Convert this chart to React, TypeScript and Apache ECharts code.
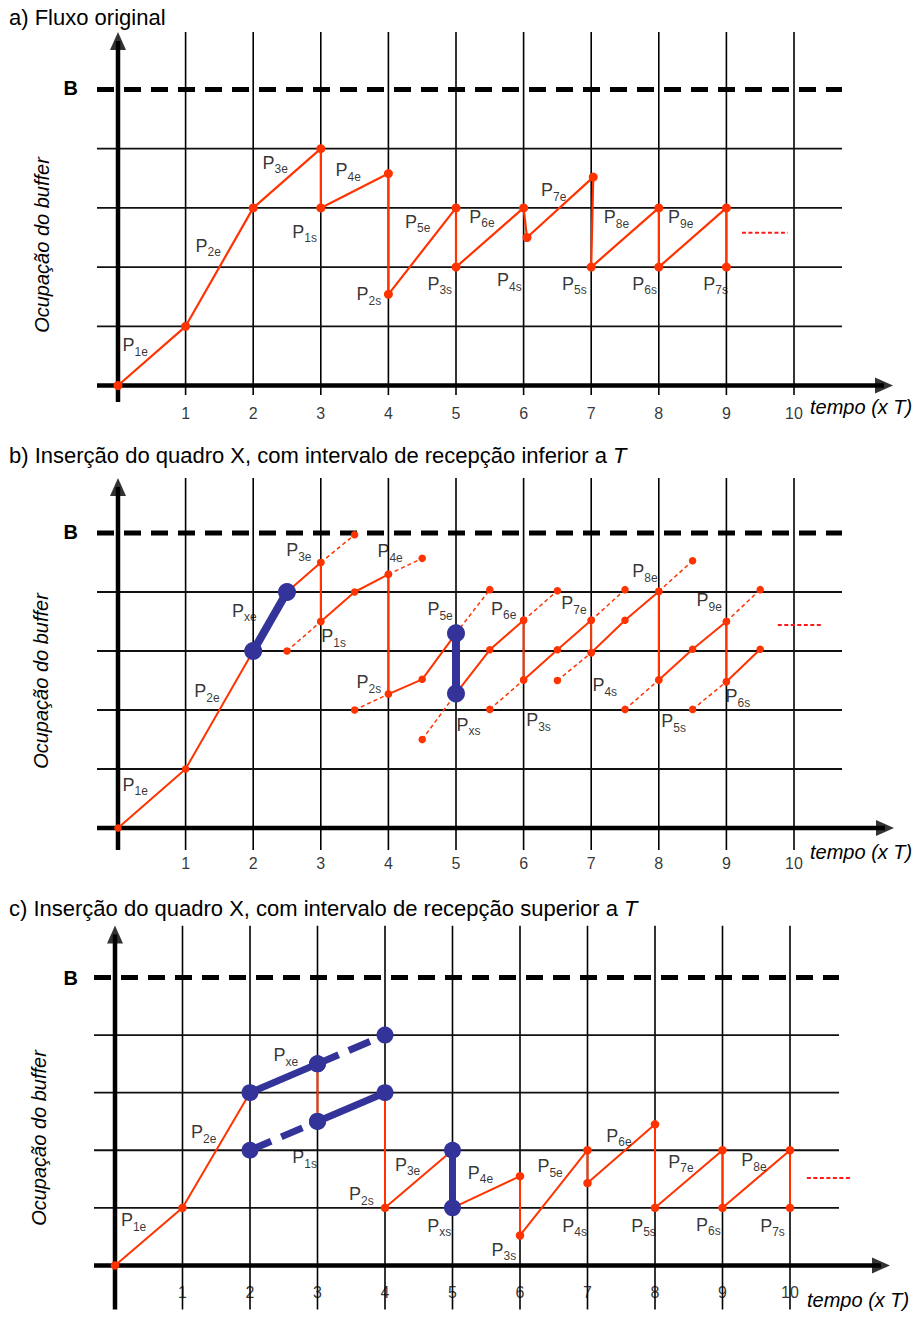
import React, { useEffect, useRef } from 'react';
import * as echarts from 'echarts';

const FONT = '"Liberation Sans", Arial, Helvetica, sans-serif';
const RED = '#ff3300';
const BLUE = '#333399';
const DOTTED = '#ff1a1a';

type Pt = [number, number];
type Seg = Pt[];

// ---------- shared axis content ----------
const xTicks = [1, 2, 3, 4, 5, 6, 7, 8, 9, 10];
const hLevels = [1, 2, 3, 4];
const bufferLevel = 5;
const yName = 'Ocupação do buffer';
const xName = 'tempo (x T)';
const bName = 'B';

const titles = [
  ['a) Fluxo original', ''],
  ['b) Inserção do quadro X, com intervalo de recepção inferior a ', 'T'],
  ['c) Inserção do quadro X, com intervalo de recepção superior a ', 'T'],
];

// ---------- panel a ----------
const aPath: Pt[] = [
  [0, 0], [1, 1], [2, 3], [3, 4], [3, 3], [4, 3.58], [4, 1.54], [5, 3], [5, 2],
  [6, 3], [6.05, 2.5], [7.03, 3.52], [7, 2], [8, 3], [8, 2], [9, 3], [9, 2],
];
const aEllipsis: Seg[] = [[[9.23, 2.58], [9.91, 2.58]]];
const aLabels: [number, number, string][] = [
  [0.06, 0.68, '1e'], [1.14, 2.36, '2e'], [2.13, 3.76, '3e'], [3.21, 3.64, '4e'],
  [2.57, 2.6, '1s'], [3.52, 1.54, '2s'], [4.24, 2.77, '5e'], [4.57, 1.72, '3s'],
  [5.19, 2.85, '6e'], [6.25, 3.3, '7e'], [5.6, 1.78, '4s'], [6.56, 1.72, '5s'],
  [7.18, 2.84, '8e'], [7.6, 1.72, '6s'], [8.13, 2.84, '9e'], [8.65, 1.72, '7s'],
];

// ---------- panel b ----------
const bPaths: Seg[] = [
  [[0, 0], [1, 1], [2, 3]],
  [[2.5, 4], [3, 4.5], [3, 3.5], [3.5, 4], [4, 4.3], [4, 2.27], [4.5, 2.52], [5, 3.3]],
  [[5, 2.28], [5.5, 3.02], [6, 3.52], [6, 2.51], [6.5, 3.02], [7, 3.52], [7, 2.97],
   [7.5, 3.52], [8, 4.01], [8, 2.51], [8.5, 3.03], [9, 3.5], [9, 2.48], [9.5, 3.03]],
];
const bDashed: Seg[] = [
  [[3, 4.5], [3.5, 4.97]], [[2.5, 3], [3, 3.5]], [[4, 4.3], [4.5, 4.57]],
  [[3.5, 2], [4, 2.27]], [[5, 3.3], [5.5, 4.04]], [[4.5, 1.5], [5, 2.28]],
  [[6, 3.52], [6.5, 4.02]], [[5.5, 2.01], [6, 2.51]], [[7, 3.52], [7.5, 4.04]],
  [[6.5, 2.5], [7, 2.97]], [[8, 4.01], [8.5, 4.53]], [[7.5, 2.01], [8, 2.51]],
  [[9, 3.5], [9.5, 4.04]], [[8.5, 2.01], [9, 2.48]],
];
const bBlue: Seg[] = [[[2, 3], [2.5, 4]], [[5, 3.3], [5, 2.28]]];
const bEllipsis: Seg[] = [[[9.76, 3.44], [10.4, 3.44]]];
const bLabels: [number, number, string][] = [
  [0.06, 0.73, '1e'], [1.12, 2.32, '2e'], [1.68, 3.68, 'xe'], [2.48, 4.71, '3e'],
  [3.83, 4.69, '4e'], [3.0, 3.25, '1s'], [3.52, 2.47, '2s'], [4.57, 3.71, '5e'],
  [5.0, 1.75, 'xs'], [5.51, 3.72, '6e'], [6.55, 3.81, '7e'], [7.6, 4.35, '8e'],
  [8.55, 3.86, '9e'], [6.03, 1.83, '3s'], [7.01, 2.42, '4s'], [8.03, 1.81, '5s'],
  [8.98, 2.23, '6s'],
];

// ---------- panel c ----------
const cPaths: Seg[] = [
  [[0, 0], [1, 1], [2, 3]],
  [[4, 3], [4, 1], [5, 2]],
  [[5, 1], [6, 1.55], [6, 0.52], [7, 2], [7, 1.43], [8, 2.45], [8, 1], [9, 2], [9, 1], [10, 2], [10, 1]],
];
const cThin: Seg[] = [[[3, 3.5], [3, 2.5]]];
const cBlueSolid: Seg[] = [[[2, 3], [3, 3.5]], [[3, 2.5], [4, 3]], [[5, 2], [5, 1]]];
const cBlueDashed: Seg[] = [[[3, 3.5], [4, 4]], [[2, 2], [3, 2.5]]];
const cEllipsis: Seg[] = [[[10.25, 1.52], [10.89, 1.52]]];
const cLabels: [number, number, string][] = [
  [0.08, 0.78, '1e'], [1.12, 2.31, '2e'], [2.34, 3.65, 'xe'], [2.62, 1.88, '1s'],
  [4.14, 1.75, '3e'], [3.46, 1.24, '2s'], [4.62, 0.69, 'xs'], [5.22, 1.61, '4e'],
  [6.25, 1.72, '5e'], [7.27, 2.25, '6e'], [8.19, 1.8, '7e'], [9.27, 1.83, '8e'],
  [5.57, 0.27, '3s'], [6.62, 0.69, '4s'], [7.64, 0.69, '5s'], [8.6, 0.71, '6s'],
  [9.55, 0.69, '7s'],
];

// ---------- layout (pixels) ----------
const PANELS = [
  { x0: 118, xu: 67.6, y0: 385.5, yu: 59.2, left: 97, right: 842, top: 32, gridBottom: 395, axisBottom: 402, xTip: 893, tickY: 413, tempoX: 810, tempoY: 407, titleY: 17.5, nameX: 42, nameY: 245, dot: 9 },
  { x0: 118, xu: 67.6, y0: 828, yu: 59, left: 97, right: 842, top: 478, gridBottom: 850, axisBottom: 850, xTip: 894, tickY: 863, tempoX: 810, tempoY: 852, titleY: 455, nameX: 41, nameY: 681, dot: 7.5 },
  { x0: 115, xu: 67.5, y0: 1277.5, yu: 59.6, left: 94, right: 839, top: 926, gridBottom: 1323, axisBottom: 1323, xTip: 890, tickY: 1306, tempoX: 807, tempoY: 1300, titleY: 908, nameX: 39, nameY: 1138, dot: 8.5 },
];

const px2x = (p: any, px: number) => (px - p.x0) / p.xu;
const px2y = (p: any, py: number) => (p.y0 - py) / p.yu;

function linesSeries(i: number, segs: Seg[], lineStyle: any, z: number) {
  return {
    type: 'lines', coordinateSystem: 'cartesian2d', xAxisIndex: i, yAxisIndex: i,
    polyline: true, silent: true, z, symbol: ['none', 'none'],
    lineStyle: { opacity: 1, curveness: 0, ...lineStyle },
    data: segs.map((c) => ({ coords: c })),
  };
}
function dotSeries(i: number, pts: Pt[], size: number, color: string, z: number) {
  return {
    type: 'scatter', xAxisIndex: i, yAxisIndex: i, silent: true, z,
    symbol: 'circle', symbolSize: size, itemStyle: { color, opacity: 1 }, data: pts,
  };
}
function pathSeries(i: number, pts: Pt[], width: number, dot: number, z: number) {
  return {
    type: 'line', xAxisIndex: i, yAxisIndex: i, silent: true, z, data: pts, clip: false,
    symbol: 'circle', symbolSize: dot, showSymbol: true,
    lineStyle: { color: RED, width }, itemStyle: { color: RED },
  };
}
function labelSeries(i: number, labels: [number, number, string][], z: number) {
  return {
    type: 'scatter', xAxisIndex: i, yAxisIndex: i, silent: true, z,
    symbolSize: 1, itemStyle: { color: 'rgba(0,0,0,0)' },
    data: labels.map((l) => ({ value: [l[0], l[1]], name: l[2] })),
    label: {
      show: true, position: 'right', distance: 0,
      formatter: (pr: any) => `{p|P}{s|${pr.name}}`,
      rich: {
        p: { fontSize: 18, fontFamily: FONT, color: '#000', lineHeight: 20 },
        s: { fontSize: 12, fontFamily: FONT, color: '#000', lineHeight: 12, padding: [13, 0, 0, 0] },
      },
    },
  };
}

function frameSeries(i: number) {
  const p = PANELS[i];
  const vLines: Seg[] = xTicks.map((x) => [[x, px2y(p, p.gridBottom)], [x, px2y(p, p.top)]]);
  const hLines: Seg[] = hLevels.map((y) => [[px2x(p, p.left), y], [px2x(p, p.right), y]]);
  const bLine: Seg[] = [[[px2x(p, p.left), bufferLevel], [px2x(p, p.right), bufferLevel]]];
  const xAxisLine: Seg[] = [[[px2x(p, p.left), 0], [px2x(p, p.xTip - 9), 0]]];
  const yAxisLine: Seg[] = [[[0, px2y(p, p.axisBottom)], [0, px2y(p, p.top + 9)]]];
  return [
    linesSeries(i, vLines, { color: '#000', width: 1.6 }, 1),
    linesSeries(i, hLines, { color: '#111', width: 1.8 }, 1),
    linesSeries(i, bLine, { color: '#000', width: 5, type: [17, 10] }, 2),
    linesSeries(i, xAxisLine, { color: '#000', width: 4.5 }, 3),
    linesSeries(i, yAxisLine, { color: '#000', width: 4.5 }, 3),
    {
      type: 'scatter', xAxisIndex: i, yAxisIndex: i, silent: true, z: 3,
      symbol: 'triangle', symbolSize: [16, 18], itemStyle: { color: '#000' },
      data: [
        { value: [0, px2y(p, p.top + 9)], symbolRotate: 0 },
        { value: [px2x(p, p.xTip - 9), 0], symbolRotate: -90 },
      ],
    },
    {
      type: 'scatter', xAxisIndex: i, yAxisIndex: i, silent: true, z: 8,
      symbolSize: 1, itemStyle: { color: 'rgba(0,0,0,0)' },
      data: xTicks.map((x) => ({ value: [x, px2y(p, p.tickY)], name: String(x) })),
      label: { show: true, position: 'inside', formatter: '{b}', fontSize: 16, fontFamily: FONT, color: '#000' },
    },
  ];
}

const ends = (segs: Seg[]) => segs.reduce((acc: Pt[], s) => acc.concat([s[0], s[s.length - 1]]), []);
const allPts = (segs: Seg[]) => segs.reduce((acc: Pt[], s) => acc.concat(s), []);

function buildOption() {
  const series: any[] = [];
  PANELS.forEach((_, i) => series.push(...frameSeries(i)));

  // panel a
  series.push(pathSeries(0, aPath, 2.2, PANELS[0].dot, 5));
  series.push(linesSeries(0, aEllipsis, { color: DOTTED, width: 2, type: [4, 2.5] }, 5));
  series.push(labelSeries(0, aLabels, 9));

  // panel b
  bPaths.forEach((pth) => series.push(pathSeries(1, pth, 2, PANELS[1].dot, 5)));
  series.push(linesSeries(1, bDashed, { color: RED, width: 1.5, type: [4, 3] }, 4));
  series.push(dotSeries(1, ends(bDashed), PANELS[1].dot, RED, 5));
  series.push(linesSeries(1, bBlue, { color: BLUE, width: 8 }, 6));
  series.push(dotSeries(1, ends(bBlue), 18, BLUE, 7));
  series.push(linesSeries(1, bEllipsis, { color: DOTTED, width: 2, type: [4, 2.5] }, 5));
  series.push(labelSeries(1, bLabels, 9));

  // panel c
  cPaths.forEach((pth) => series.push(pathSeries(2, pth, 2, PANELS[2].dot, 5)));
  series.push(linesSeries(2, cThin, { color: RED, width: 2 }, 5));
  series.push(linesSeries(2, cBlueSolid, { color: BLUE, width: 7 }, 6));
  series.push(linesSeries(2, cBlueDashed, { color: BLUE, width: 7, type: [23, 11] }, 6));
  series.push(dotSeries(2, allPts(cBlueSolid.concat(cBlueDashed)), 17, BLUE, 7));
  series.push(linesSeries(2, cEllipsis, { color: DOTTED, width: 2, type: [4, 2.5] }, 5));
  series.push(labelSeries(2, cLabels, 9));

  const graphic: any[] = [];
  PANELS.forEach((p) => {
    graphic.push({
      type: 'text', x: 63.5, y: p.y0 - bufferLevel * p.yu - 1.5, silent: true,
      style: { text: bName, font: `bold 20px ${FONT}`, fill: '#000', textAlign: 'left', textVerticalAlign: 'middle' },
    });
    graphic.push({
      type: 'text', x: p.tempoX, y: p.tempoY, silent: true,
      style: { text: xName, font: `italic 20px ${FONT}`, fill: '#000', textAlign: 'left', textVerticalAlign: 'middle' },
    });
    graphic.push({
      type: 'text', x: p.nameX, y: p.nameY, rotation: Math.PI / 2, silent: true,
      style: { text: yName, font: `italic 20px ${FONT}`, fill: '#000', textAlign: 'center', textVerticalAlign: 'middle' },
    });
  });

  return {
    animation: false,
    title: PANELS.map((p, i) => ({
      left: 9, top: p.titleY - 13, padding: 0,
      text: titles[i][1] ? `{n|${titles[i][0]}}{i|${titles[i][1]}}` : `{n|${titles[i][0]}}`,
      textStyle: {
        fontWeight: 'normal',
        rich: {
          n: { fontSize: 22, fontFamily: FONT, fontWeight: 'normal', color: '#000', lineHeight: 26 },
          i: { fontSize: 22, fontFamily: FONT, fontWeight: 'normal', fontStyle: 'italic', color: '#000', lineHeight: 26 },
        },
      },
    })),
    grid: PANELS.map((p) => ({ left: p.x0 - 0.5 * p.xu, top: p.y0 - 6 * p.yu, width: 12 * p.xu, height: 7 * p.yu })),
    xAxis: PANELS.map((_, i) => ({ type: 'value', gridIndex: i, min: -0.5, max: 11.5, show: false })),
    yAxis: PANELS.map((_, i) => ({ type: 'value', gridIndex: i, min: -1, max: 6, show: false })),
    series,
    graphic,
  };
}

export default function App() {
  const ref = useRef<HTMLDivElement>(null);
  useEffect(() => {
    if (!ref.current) return;
    const chart = echarts.init(ref.current, undefined, { renderer: 'svg' });
    chart.setOption(buildOption() as any);
    return () => chart.dispose();
  }, []);
  return (
    <div
      ref={ref}
      style={{ position: 'absolute', left: 0, top: 0, width: 913, height: 1323, background: '#fff' }}
    />
  );
}
